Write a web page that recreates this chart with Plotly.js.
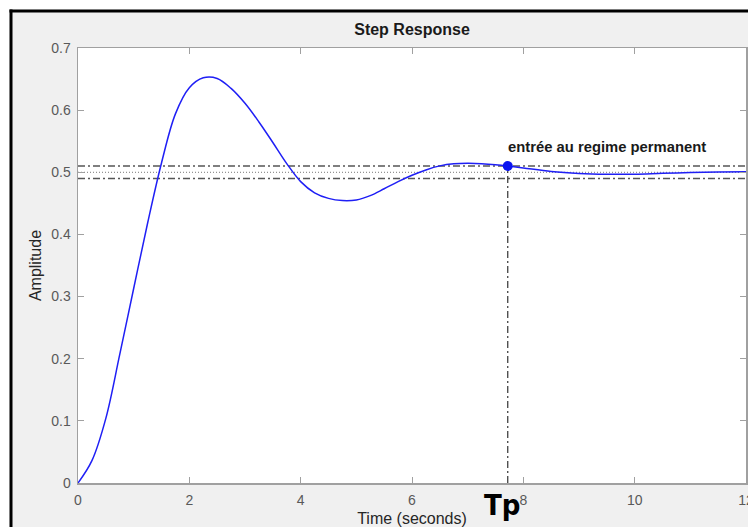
<!DOCTYPE html>
<html>
<head>
<meta charset="utf-8">
<script src="https://cdn.plot.ly/plotly-3.0.1.min.js"></script>
<style>
  html, body { margin: 0; padding: 0; background: #ffffff; }
  #chart { width: 748px; height: 527px; }
</style>
</head>
<body>
<div id="chart"></div>
<script>
// ---- data ----
const timeSeconds = [0, 0.25, 0.5, 0.75, 1.0, 1.25, 1.5, 1.75, 2.0, 2.25, 2.5, 2.75, 3.0, 3.25, 3.5, 3.75, 4.0, 4.25, 4.5, 4.75, 5.0, 5.25, 5.5, 5.75, 6.0, 6.25, 6.5, 6.75, 7.0, 7.25, 7.5, 7.75, 8.0, 8.5, 9.0, 9.5, 10.0, 10.5, 11.0, 11.5, 12.0];
const amplitude   = [0, 0.036, 0.104, 0.207, 0.313, 0.418, 0.515, 0.594, 0.636, 0.652, 0.651, 0.635, 0.611, 0.581, 0.548, 0.514, 0.485, 0.467, 0.458, 0.4545, 0.4555, 0.4625, 0.4735, 0.485, 0.4952, 0.5038, 0.5103, 0.5136, 0.5144, 0.5138, 0.5122, 0.5098, 0.507, 0.5012, 0.498, 0.4968, 0.497, 0.4984, 0.4995, 0.5004, 0.501];
const finalValue = 0.5;
const bandUpper = 0.51;
const bandLower = 0.49;
const settleTime = 7.72;     // Tp
const settleAmp = 0.51;
const xRange = [0, 12];
const yRange = [0, 0.7];
const xTicks = [0, 2, 4, 6, 8, 10, 12];
const yTicks = [0, 0.1, 0.2, 0.3, 0.4, 0.5, 0.6, 0.7];
const titleText = 'Step Response';
const xTitle = 'Time (seconds)';
const yTitle = 'Amplitude';
const noteText = 'entrée au regime permanent';
const tpText = 'Tp';

// ---- layout geometry (pixels) ----
const W = 748, H = 527;
const L = 78, R = 746, T = 48, B = 483;
const px2x = p => (p - L) / (R - L);
const py2y = p => (B - p) / (B - T);

const refColor = '#555555';
const dashDot = '7px,3px,2px,3px';

const traces = [
  { x: xRange, y: [bandUpper, bandUpper], mode: 'lines',
    line: { color: refColor, width: 1.5, dash: dashDot }, hoverinfo: 'skip' },
  { x: xRange, y: [bandLower, bandLower], mode: 'lines',
    line: { color: refColor, width: 1.5, dash: dashDot }, hoverinfo: 'skip' },
  { x: xRange, y: [finalValue, finalValue], mode: 'lines',
    line: { color: '#777777', width: 1, dash: '1px,2px' }, hoverinfo: 'skip' },
  { x: [settleTime, settleTime], y: [yRange[0], settleAmp], mode: 'lines',
    line: { color: '#333333', width: 1.2, dash: dashDot }, hoverinfo: 'skip' },
  { x: timeSeconds, y: amplitude, mode: 'lines',
    line: { color: '#1f1ff5', width: 1.5, shape: 'spline', smoothing: 1 } },
  { x: [settleTime], y: [settleAmp], mode: 'markers',
    marker: { color: '#0a14f0', size: 10 } }
];

const axisCommon = {
  showgrid: false, zeroline: false,
  showline: true, linecolor: '#a0a0a0', linewidth: 1.5, mirror: 'ticks',
  ticks: 'inside', ticklen: 6, tickwidth: 1, tickcolor: '#a0a0a0',
  tickfont: { family: 'Arial, Liberation Sans, sans-serif', size: 14, color: '#595959' },
  ticklabeloverflow: 'allow',
  fixedrange: true
};

const layout = {
  width: W, height: H,
  margin: { l: L, r: W - R, t: T, b: H - B, pad: 0 },
  paper_bgcolor: '#f0f0f0',
  plot_bgcolor: '#ffffff',
  showlegend: false,
  title: {
    text: '<b>' + titleText + '</b>',
    font: { family: 'Arial, Liberation Sans, sans-serif', size: 16, color: '#1a1a1a' },
    x: (L + R) / 2 / W, xanchor: 'center', xref: 'container',
    y: 1 - 29 / H, yanchor: 'middle', yref: 'container'
  },
  xaxis: Object.assign({}, axisCommon, {
    range: xRange, tickvals: xTicks, ticktext: xTicks.map(String),
    ticklabelstandoff: 4,
    title: { text: xTitle, standoff: 5,
      font: { family: 'Arial, Liberation Sans, sans-serif', size: 16, color: '#262626' } }
  }),
  yaxis: Object.assign({}, axisCommon, {
    range: yRange, tickvals: yTicks, ticktext: yTicks.map(v => v === 0 ? '0' : v.toFixed(1)),
    ticklabelstandoff: 3,
    title: { text: yTitle, standoff: 5,
      font: { family: 'Arial, Liberation Sans, sans-serif', size: 16, color: '#262626' } }
  }),
  annotations: [
    { x: settleTime, y: settleAmp, xref: 'x', yref: 'y', text: '<b>' + noteText + '</b>',
      showarrow: false, xanchor: 'left', yanchor: 'bottom', xshift: -2, yshift: 9,
      font: { family: 'Arial, Liberation Sans, sans-serif', size: 14.8, color: '#1a1a1a' } },
    { x: settleTime, y: py2y(505), xref: 'x', yref: 'paper', text: '<b>' + tpText + '</b>',
      showarrow: false, xanchor: 'center', yanchor: 'middle', xshift: -6,
      font: { family: 'Liberation Sans Narrow, Arial Narrow, DejaVu Sans Condensed, Arial, sans-serif', size: 29, color: '#000000' } }
  ],
  shapes: [
    { type: 'rect', xref: 'paper', yref: 'paper', layer: 'above',
      x0: px2x(0), x1: px2x(W + 2), y0: py2y(-2), y1: py2y(9.5),
      fillcolor: '#ffffff', line: { width: 0 } },
    { type: 'rect', xref: 'paper', yref: 'paper', layer: 'above',
      x0: px2x(-2), x1: px2x(9.5), y0: py2y(-2), y1: py2y(H + 2),
      fillcolor: '#ffffff', line: { width: 0 } },
    { type: 'rect', xref: 'paper', yref: 'paper', layer: 'above',
      x0: px2x(9.5), x1: px2x(W + 2), y0: py2y(9.5), y1: py2y(12.5),
      fillcolor: '#000000', line: { width: 0 } },
    { type: 'rect', xref: 'paper', yref: 'paper', layer: 'above',
      x0: px2x(9.5), x1: px2x(12.5), y0: py2y(9.5), y1: py2y(H + 2),
      fillcolor: '#000000', line: { width: 0 } }
  ]
};

Plotly.newPlot('chart', traces, layout, { displayModeBar: false, staticPlot: true });
</script>
</body>
</html>
